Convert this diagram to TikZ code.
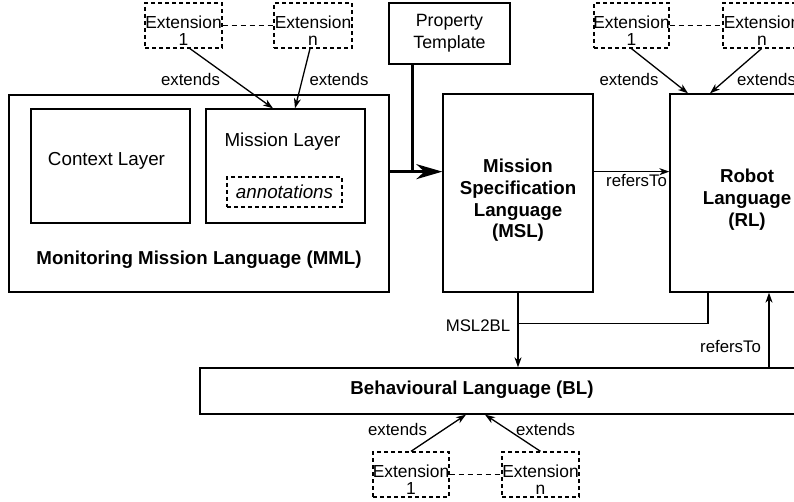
\documentclass[tikz,border=0pt]{standalone}
\usepackage{fontspec}
\setmainfont{Liberation Sans}
\usetikzlibrary{arrows.meta,calc}
\newcommand\myfs[2]{\fontsize{#1}{#2}\selectfont}
\begin{document}
\begin{tikzpicture}[x=1pt,y=-1pt,
  box/.style={draw, line width=1.3pt, inner sep=0pt, align=center},
  dbox/.style={box, dash pattern=on 4pt off 3pt},
  ext/.style={dbox, minimum width=77pt, minimum height=45pt},
  exttext/.style={font=\myfs{17.4}{17}, align=center, inner sep=0pt},
  lbl/.style={font=\myfs{16.8}{20}, inner sep=0pt},
  boxtext/.style={font=\myfs{18.8}{22}, inner sep=0pt, align=center},
  boldtext/.style={font=\myfs{18.7}{21.7}\bfseries, inner sep=0pt, align=center},
  arr/.style={line width=1.3pt, -{Stealth[length=10pt,width=7pt,inset=3pt]}},
  link/.style={line width=1.3pt, dash pattern=on 5pt off 4pt},
  big/.style={line width=3pt}]
\useasboundingbox (0,0) rectangle (794,502);
\clip (0,0) rectangle (794,502);

% MML
\node[box, minimum width=380pt, minimum height=197pt] (MML) at (199,193.5) {};
\node[boldtext] (MMLt) at (199,260) {Monitoring Mission Language (MML)};
\node[box, minimum width=159pt, minimum height=114pt] (CL) at (110.5,166) {};
\node[boxtext] (CLt) at (106.5,160.5) {Context Layer};
\node[box, minimum width=159pt, minimum height=114pt] (ML) at (285.5,166) {};
\node[boxtext] (MLt) at (282.5,142) {Mission Layer};
\node[dbox, minimum width=115pt, minimum height=30pt, font=\myfs{18.8}{22}\itshape] (ann) at (284.5,192) {annotations};

% Property template
\node[box, minimum width=121pt, minimum height=61pt, font=\myfs{17.8}{22}] (PT) at (449.5,33.5) {Property\\Template};

% MSL and RL
\node[box, minimum width=150pt, minimum height=198pt] (MSL) at (518,193) {};
\node[boldtext] (MSLt) at (518,200.5) {Mission\\Specification\\Language\\(MSL)};
\node[box, minimum width=154pt, minimum height=198pt] (RL) at (747,193) {};
\node[boldtext] (RLt) at (747,199.5) {Robot\\Language\\(RL)};

% BL
\node[box, minimum width=700pt, minimum height=46pt] (BL) at (550,391) {};
\node[boldtext] (BLt) at (472,390) {Behavioural Language (BL)};

% Extensions top-left
\node[ext] (E1) at (183.5,25.5) {};
\node[exttext] (E1t) at (183.5,31) {Extension\\1};
\node[ext, minimum width=78pt] (En) at (313,25.5) {};
\node[exttext] (Ent) at (313,31) {Extension\\n};
\draw[link] (E1.east) -- (En.west);

% Extensions RL
\node[ext, minimum width=75pt] (R1) at (631.5,25.5) {};
\node[exttext] (R1t) at (631.5,31) {Extension\\1};
\node[ext] (Rn) at (761.5,25.5) {};
\node[exttext] (Rnt) at (762,31) {Extension\\n};
\draw[link] (R1.east) -- (Rn.west);

% Extensions BL
\node[ext, minimum width=76pt] (B1) at (411,474.5) {};
\node[exttext] (B1t) at (411,479.5) {Extension\\1};
\node[ext] (Bn) at (540.5,474.5) {};
\node[exttext] (Bnt) at (540.5,479.5) {Extension\\n};
\draw[link] (B1.east) -- (Bn.west);

% extends arrows
\draw[arr] ([xshift=6.5pt]E1.south) -- ([xshift=-12.5pt]ML.north);
\draw[arr] ([xshift=-3pt]En.south) -- ([xshift=9.5pt]ML.north);
\node[lbl] (x1) at (190.5,79) {extends};
\node[lbl] (x2) at (339,79) {extends};

\draw[arr] (R1.south) -- ([xshift=-59pt]RL.north);
\draw[arr] (Rn.south) -- ([xshift=-37pt]RL.north);
\node[lbl] (x3) at (629,79) {extends};
\node[lbl] (x4) at (766.5,79) {extends};

\draw[arr] (B1.north) -- ([xshift=-84pt]BL.south);
\draw[arr] (Bn.north) -- ([xshift=-65pt]BL.south);
\node[lbl] (x5) at (397.5,429) {extends};
\node[lbl] (x6) at (545.5,429) {extends};

% Property template / MML to MSL
\coordinate (J) at ($(PT.south)+(-37.5,107)$);
\draw[big] ([xshift=-37.5pt]PT.south) -- (J);
\draw[big, -{Stealth[length=26pt,width=15pt,inset=8pt]}] (MML.east |- J) -- (MSL.west |- J);

% refersTo MSL -> RL
\draw[arr] (MSL.east |- J) -- (RL.west |- J);
\node[lbl] (r1) at (636.5,181) {refersTo};

% MSL2BL
\draw[arr] (MSL.south) -- (MSL.south |- BL.north);
\coordinate (K) at ($(RL.south)+(-39,31)$);
\draw[line width=1.3pt] ([xshift=-39pt]RL.south) -- (K) -- (K -| MSL.south);
\node[lbl] (m1) at (478,326) {MSL2BL};

% refersTo BL -> RL
\coordinate (L) at ($(RL.south)+(22,0)$);
\draw[arr] (L |- BL.north) -- (L);
\node[lbl] (r2) at (730.5,347) {refersTo};
\end{tikzpicture}
\end{document}
